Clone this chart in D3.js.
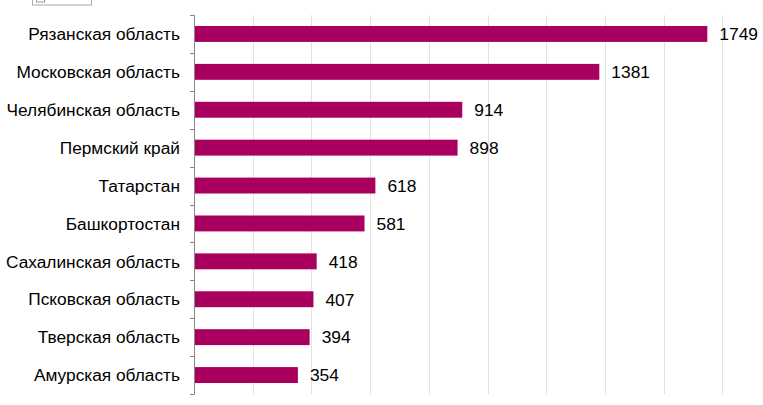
<!DOCTYPE html>
<html>
<head>
<meta charset="utf-8">
<script src="https://cdn.jsdelivr.net/npm/d3@7"></script>
<style>
  body { margin: 0; background: #fff; }
  text { font-family: "Liberation Sans", Arial, sans-serif; }
</style>
</head>
<body>
<svg id="chart" width="763" height="405"></svg>
<script>
const regions = ["Рязанская область", "Московская область", "Челябинская область", "Пермский край",
  "Татарстан", "Башкортостан", "Сахалинская область", "Псковская область", "Тверская область", "Амурская область"];
const counts = [1749, 1381, 914, 898, 618, 581, 418, 407, 394, 354];
const gridTicks = [200, 400, 600, 800, 1000, 1200, 1400, 1600, 1800];

const svg = d3.select("#chart");

// cropped toolbar box at top-left
svg.append("rect")
  .attr("x", 32.5).attr("y", -10).attr("width", 59).attr("height", 15)
  .attr("fill", "#fff").attr("stroke", "#aaa");
svg.append("rect")
  .attr("x", 36.5).attr("y", -6).attr("width", 8).attr("height", 8)
  .attr("fill", "none").attr("stroke", "#999");

const x = d3.scaleLinear().domain([0, 1800]).range([194, 722.3]);
const y = d3.scaleBand().domain(regions).range([15, 394]).paddingInner(0.58).paddingOuter(0.29);

// gridlines
svg.append("g")
  .selectAll("line")
  .data(gridTicks)
  .join("line")
  .attr("x1", d => Math.round(x(d)) + 0.5)
  .attr("x2", d => Math.round(x(d)) + 0.5)
  .attr("y1", 15).attr("y2", 394)
  .attr("stroke", "#e3e3e3");

// bars
svg.append("g")
  .selectAll("rect")
  .data(counts)
  .join("rect")
  .attr("x", x(0))
  .attr("y", (d, i) => y(regions[i]))
  .attr("width", d => x(d) - x(0))
  .attr("height", y.bandwidth())
  .attr("fill", "#a9005f");

// value labels
svg.append("g")
  .selectAll("text")
  .data(counts)
  .join("text")
  .attr("x", d => x(d) + 12)
  .attr("y", (d, i) => y(regions[i]) + y.bandwidth() / 2)
  .attr("dy", "0.36em")
  .attr("font-size", 17.4)
  .attr("fill", "#000")
  .text(d => d);

// category axis with ticks at band edges
const axisG = svg.append("g");
axisG.append("line")
  .attr("x1", 194.5).attr("x2", 194.5).attr("y1", 15).attr("y2", 394)
  .attr("stroke", "#888");
const edges = d3.range(regions.length + 1).map(i => 15 + i * (394 - 15) / regions.length);
axisG.selectAll("line.tick")
  .data(edges)
  .join("line")
  .attr("class", "tick")
  .attr("x1", 190).attr("x2", 194.5)
  .attr("y1", d => Math.round(d) + 0.5).attr("y2", d => Math.round(d) + 0.5)
  .attr("stroke", "#888");
axisG.selectAll("text")
  .data(regions)
  .join("text")
  .attr("x", 180)
  .attr("y", d => y(d) + y.bandwidth() / 2)
  .attr("dy", "0.36em")
  .attr("text-anchor", "end")
  .attr("font-size", 17.3)
  .attr("fill", "#000")
  .text(d => d);
</script>
</body>
</html>
